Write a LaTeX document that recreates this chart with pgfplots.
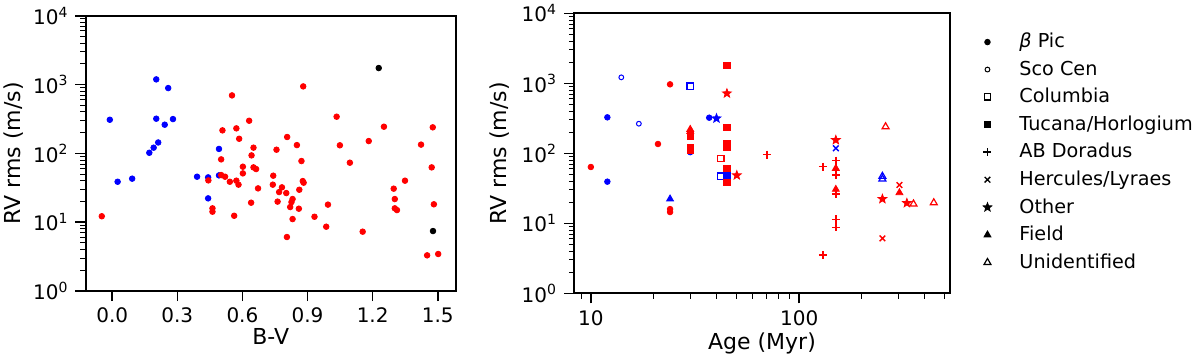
\documentclass[border=0pt]{standalone}
\usepackage{fontspec}
\setmainfont{DejaVu Sans}
\usepackage{pgfplots}
\pgfplotsset{compat=1.18}

% filled five-pointed star
\pgfdeclareplotmark{fstar}{%
  \pgfpathmoveto{\pgfpointpolar{90}{\pgfplotmarksize}}%
  \pgfpathlineto{\pgfpointpolar{126}{0.42\pgfplotmarksize}}%
  \pgfpathlineto{\pgfpointpolar{162}{\pgfplotmarksize}}%
  \pgfpathlineto{\pgfpointpolar{198}{0.42\pgfplotmarksize}}%
  \pgfpathlineto{\pgfpointpolar{234}{\pgfplotmarksize}}%
  \pgfpathlineto{\pgfpointpolar{270}{0.42\pgfplotmarksize}}%
  \pgfpathlineto{\pgfpointpolar{306}{\pgfplotmarksize}}%
  \pgfpathlineto{\pgfpointpolar{342}{0.42\pgfplotmarksize}}%
  \pgfpathlineto{\pgfpointpolar{18}{\pgfplotmarksize}}%
  \pgfpathlineto{\pgfpointpolar{54}{0.42\pgfplotmarksize}}%
  \pgfpathclose
  \pgfusepathqfillstroke
}

\tikzset{
  mkbpic/.style={only marks,mark=*,mark size=1.4pt},
  mksco/.style={only marks,mark=o,mark size=1.2pt,line width=0.5pt},
  mkcol/.style={only marks,mark=square,mark size=1.6pt,line width=0.7pt},
  mktuc/.style={only marks,mark=square*,mark size=1.6pt},
  mkabd/.style={only marks,mark=+,mark size=2pt,line width=0.7pt},
  mkher/.style={only marks,mark=x,mark size=2pt,line width=0.7pt},
  mkoth/.style={only marks,mark=fstar,mark size=2.3pt},
  mkfld/.style={only marks,mark=triangle*,mark size=2pt},
  mkuni/.style={only marks,mark=triangle,mark size=2pt,line width=0.6pt},
}

\begin{document}
\begin{tikzpicture}
\path[use as bounding box] (0,0) rectangle (600pt,-180.5pt);

% ---- left: RV rms vs B-V
\begin{axis}[
    scale only axis,
    at={(42.75pt,-145.5pt)}, anchor=south west,
    width=185.25pt, height=137.65pt,
    xmin=-0.123, xmax=1.584,
    ymode=log, ymin=1, ymax=10000,
    ytick={1,10,100,1000,10000},
    yticklabels={10\textsuperscript{0},10\textsuperscript{1},10\textsuperscript{2},10\textsuperscript{3},10\textsuperscript{4}},
    minor ytick={2,3,4,5,6,7,8,9,20,30,40,50,60,70,80,90,200,300,400,500,600,700,800,900,2000,3000,4000,5000,6000,7000,8000,9000},
    xtick={0,0.3,0.6,0.9,1.2,1.5},
    xticklabels={0.0,0.3,0.6,0.9,1.2,1.5},
    tick align=outside,
    xtick pos=left, ytick pos=left,
    axis line style={line width=1pt},
    major tick length=5pt, minor tick length=2.6pt,
    major tick style={black,line width=0.8pt},
    minor tick style={black,line width=0.5pt},
    tick label style={font=\fontsize{10}{12}\selectfont},
    label style={font=\fontsize{11}{13}\selectfont},
    xlabel={B-V},
    ylabel={RV rms (m/s)},
    xlabel style={at={(axis description cs:0.5,-0.196)},anchor=base},
    ylabel style={at={(axis description cs:-0.195,0.5)},anchor=center},
    clip=false,
]
\addplot[mkbpic,blue] coordinates {
  (-0.011,308) (0.025,38.7) (0.092,42.9) (0.203,1189) (0.258,889)
  (0.203,319) (0.280,315) (0.242,261) (0.212,144) (0.191,121)
  (0.171,102) (0.391,45.8) (0.442,44.8) (0.442,22.2) (0.492,116)
  (0.492,47.9)
};
\addplot[mkbpic,red] coordinates {
  (-0.048,12.2) (0.552,696) (0.880,940) (0.631,298) (0.508,216)
  (0.572,231) (0.585,163) (0.651,121) (0.642,93.5) (0.757,113)
  (0.806,173) (0.851,132) (0.872,77.4) (1.034,341) (1.049,131)
  (1.095,73.2) (1.182,151) (1.252,244) (1.423,134) (1.477,239)
  (1.472,62.6) (1.482,18.2) (1.451,3.30) (1.502,3.45) (1.349,40.1)
  (1.297,30.7) (1.302,21.7) (1.302,15.9) (1.312,15.0) (0.502,81.8)
  (0.502,48.4) (0.520,45.8) (0.443,40.5) (0.542,38.7) (0.572,40.1)
  (0.582,35.1) (0.602,64.0) (0.602,51.2) (0.651,62.6) (0.663,59.2)
  (0.672,31.0) (0.640,19.2) (0.562,12.4) (0.462,15.9) (0.462,14.2)
  (0.742,47.4) (0.740,35.1) (0.782,32.1) (0.769,27.4) (0.802,26.5)
  (0.762,19.9) (0.831,21.7) (0.826,19.6) (0.820,16.6) (0.831,11.1)
  (0.805,6.09) (0.862,29.6) (0.860,15.7) (0.878,39.6) (0.882,37.5)
  (0.932,12.0) (0.994,18.0) (0.986,8.6) (1.154,7.28)
};
\addplot[mkbpic,black] coordinates {(1.228,1738) (1.478,7.44)};
\end{axis}

% ---- right: RV rms vs age
\begin{axis}[
    scale only axis,
    at={(287pt,-146.67pt)}, anchor=south west,
    width=188pt, height=140pt,
    xmode=log, xmin=8.3, xmax=530,
    ymode=log, ymin=1, ymax=10000,
    xtick={10,100}, xticklabels={10,100},
    minor xtick={9,20,30,40,50,60,70,80,90,200,300,400,500},
    ytick={1,10,100,1000,10000},
    yticklabels={10\textsuperscript{0},10\textsuperscript{1},10\textsuperscript{2},10\textsuperscript{3},10\textsuperscript{4}},
    minor ytick={2,3,4,5,6,7,8,9,20,30,40,50,60,70,80,90,200,300,400,500,600,700,800,900,2000,3000,4000,5000,6000,7000,8000,9000},
    tick align=outside,
    xtick pos=left, ytick pos=left,
    axis line style={line width=1pt},
    major tick length=5pt, minor tick length=2.6pt,
    major tick style={black,line width=0.8pt},
    minor tick style={black,line width=0.5pt},
    tick label style={font=\fontsize{10}{12}\selectfont},
    label style={font=\fontsize{11}{13}\selectfont},
    xlabel={Age (Myr)},
    ylabel={RV rms (m/s)},
    xlabel style={at={(axis description cs:0.5,-0.2)},anchor=base},
    ylabel style={at={(axis description cs:-0.197,0.5)},anchor=center},
    clip=false,
    legend style={at={(1.071,0.959)},anchor=north west,draw=none,fill=none,
      font=\fontsize{9.6}{11}\selectfont,row sep=1pt},
    legend cell align=left,
    legend image code/.code={\path[draw=none,fill=none] (-1pt,0pt) -- (14pt,0pt);
      \draw[mark repeat=2,mark phase=2,#1]
      plot coordinates {(0pt,0pt) (0pt,0pt) (0pt,0pt)};},
]
\addlegendimage{mkbpic,black}\addlegendentry{\textit{β} Pic}
\addlegendimage{mksco,black}\addlegendentry{Sco Cen}
\addlegendimage{mkcol,black}\addlegendentry{Columbia}
\addlegendimage{mktuc,black}\addlegendentry{Tucana/Horlogium}
\addlegendimage{mkabd,black}\addlegendentry{AB Doradus}
\addlegendimage{mkher,black}\addlegendentry{Hercules/Lyraes}
\addlegendimage{mkoth,black}\addlegendentry{Other}
\addlegendimage{mkfld,black}\addlegendentry{Field}
\addlegendimage{mkuni,black}\addlegendentry{Unidentified}

\addplot[mkbpic,blue,forget plot] coordinates {(12,327) (12,39.4) (37,323) (30,104)};
\addplot[mkbpic,red,forget plot] coordinates {(10,63.8) (24,968) (21,136) (24,16) (24,14.5)};
\addplot[mksco,blue,forget plot] coordinates {(14,1218) (17,265)};
\addplot[mkcol,blue,draw=blue,forget plot] coordinates {(30,916) (42.1,47)};
\addplot[mkcol,red,draw=red,forget plot] coordinates {(42.1,84.5)};
\addplot[mktuc,red,forget plot] coordinates {
  (30,185) (30,175) (30,120) (30,112) (45,1787) (45,235) (45,136)
  (45,121) (45,61) (45,52) (45,39)
};
\addplot[mktuc,blue,forget plot] coordinates {(45,48)};
\addplot[mkabd,red,forget plot] coordinates {
  (70,96) (130,64.5) (130,3.53) (150,78.5) (150,49) (150,26.2)
  (150,11.4) (150,8.8)
};
\addplot[mkher,blue,forget plot] coordinates {(150,118)};
\addplot[mkher,red,forget plot] coordinates {(303,35.3) (251,6.1)};
\addplot[mkoth,red,forget plot] coordinates {(45,719) (50.2,48.6) (150,155) (251,22.3) (329,19.5)};
\addplot[mkoth,blue,forget plot] coordinates {(40.1,316)};
\addplot[mkfld,red,forget plot] coordinates {(30,220) (30,205) (150,61) (150,30.6) (303,27.4)};
\addplot[mkfld,blue,forget plot] coordinates {(24,22.3)};
\addplot[mkuni,red,forget plot] coordinates {(260,240) (354,18.9) (443,19.7)};
\addplot[mkuni,blue,forget plot] coordinates {(251,47) (251,43)};
\end{axis}
\end{tikzpicture}
\end{document}
